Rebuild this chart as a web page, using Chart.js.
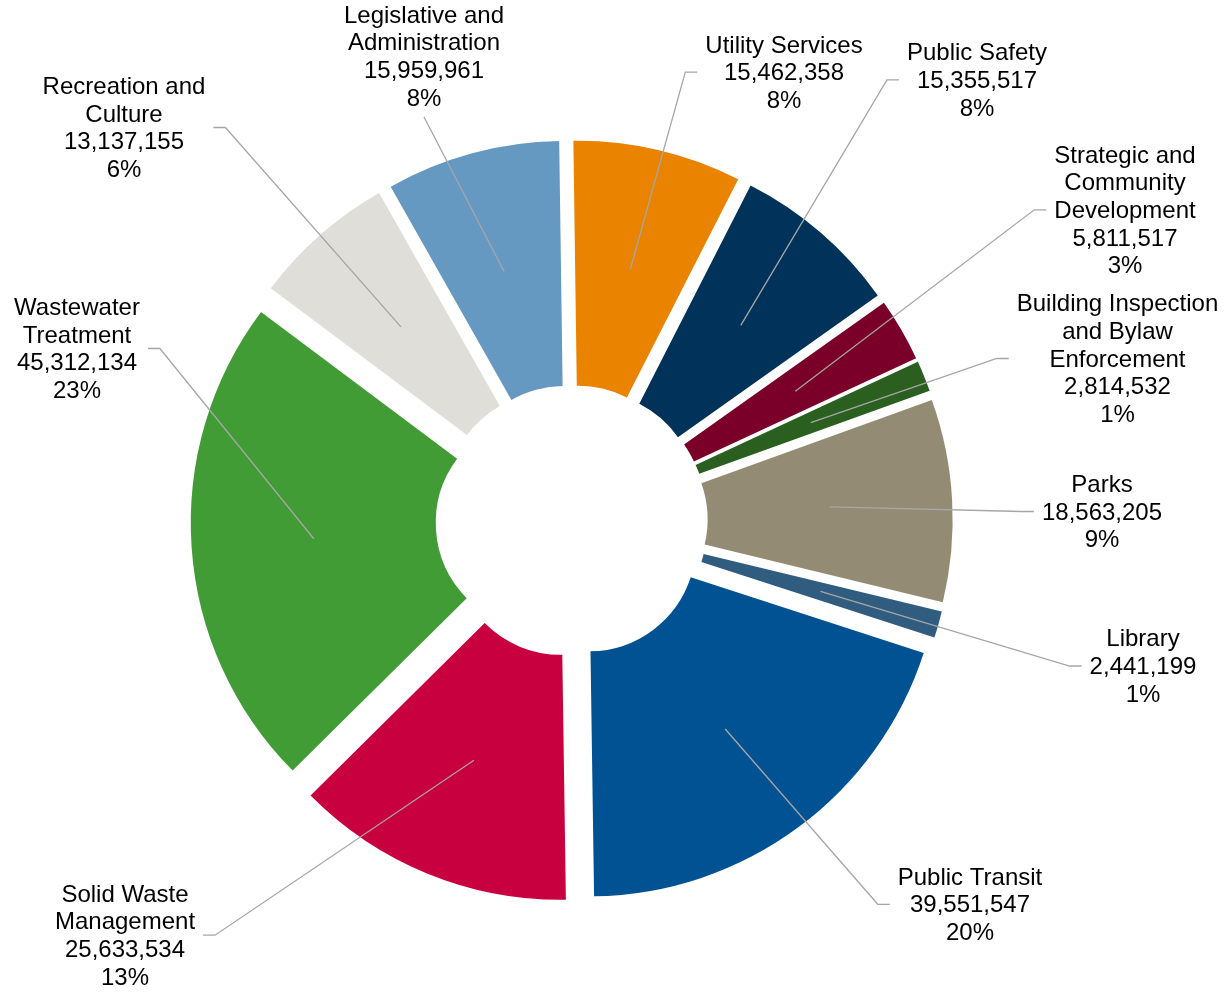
<!DOCTYPE html>
<html><head><meta charset="utf-8">
<script src="https://cdn.jsdelivr.net/npm/chart.js@4"></script>
<style>html,body{margin:0;padding:0;background:#fff;} #wrap{width:1224px;height:993px;position:relative;}</style>
</head><body><div id="wrap"><canvas id="c"></canvas></div>
<script>
const categories = [
  ["Utility Services"],
  ["Public Safety"],
  ["Strategic and", "Community", "Development"],
  ["Building Inspection", "and Bylaw", "Enforcement"],
  ["Parks"],
  ["Library"],
  ["Public Transit"],
  ["Solid Waste", "Management"],
  ["Wastewater", "Treatment"],
  ["Recreation and", "Culture"],
  ["Legislative and", "Administration"]
];
const values = [15462358, 15355517, 5811517, 2814532, 18563205, 2441199, 39551547, 25633534, 45312134, 13137155, 15959961];
const percentLabels = ["8%", "8%", "3%", "1%", "9%", "1%", "20%", "13%", "23%", "6%", "8%"];
const colors = ["#E98300", "#00325A", "#7A0029", "#2A5F1F", "#938B74", "#305D7F", "#005293", "#C8003F", "#429C36", "#DFDED9", "#6699C2"];

// label block placement relative to doughnut centre (middle of text block)
const labelSide = ["right", "right", "right", "right", "right", "right", "right", "left", "left", "left", "top"];
const labelDX = [212.3, 405.3, 553.3, 545.8, 530.3, 571.3, 398.3, -446.7, -494.7, -447.7, -147.7];
const labelDY = [-447.4, -439.6, -309.7, -161, -8, 146.5, 384.8, 415.7, -171, -392, -463.4];

const EXPLODE = 29;
const LINE_H = 27.7;
const FONT = '24px "Liberation Sans", Arial, sans-serif';

const explodePlugin = {
  id: 'explode',
  beforeDatasetDraw(chart, args) {
    const ctx = chart.ctx;
    args.meta.data.forEach(arc => {
      const p = arc.getProps(['startAngle', 'endAngle'], true);
      const mid = (p.startAngle + p.endAngle) / 2;
      ctx.save();
      ctx.translate(Math.cos(mid) * EXPLODE, Math.sin(mid) * EXPLODE);
      arc.draw(ctx);
      ctx.restore();
    });
    return false;
  }
};

const labelPlugin = {
  id: 'outLabels',
  afterDatasetsDraw(chart) {
    const ctx = chart.ctx;
    const meta = chart.getDatasetMeta(0);
    ctx.save();
    ctx.font = FONT;
    meta.data.forEach((arc, i) => {
      const p = arc.getProps(['x', 'y', 'startAngle', 'endAngle'], true);
      const mid = (p.startAngle + p.endAngle) / 2;
      const cp = arc.getCenterPoint(true);
      const sx = cp.x + Math.cos(mid) * EXPLODE;
      const sy = cp.y + Math.sin(mid) * EXPLODE;
      const lines = categories[i].concat([values[i].toLocaleString('en-US'), percentLabels[i]]);
      const bx = p.x + labelDX[i];
      const by = p.y + labelDY[i];
      let maxW = 0;
      lines.forEach(t => { maxW = Math.max(maxW, ctx.measureText(t).width); });
      const n = lines.length;
      // leader line
      ctx.strokeStyle = '#A6A6A6';
      ctx.lineWidth = 1.3;
      ctx.beginPath();
      ctx.moveTo(sx, sy);
      if (labelSide[i] === 'top') {
        ctx.lineTo(bx, by + (n / 2) * LINE_H + 4);
      } else {
        const ly = by - 1.5;
        if (labelSide[i] === 'right') {
          const tick = bx - maxW / 2 - 8;
          ctx.lineTo(tick - 12, ly);
          ctx.lineTo(tick, ly);
        } else {
          const tick = bx + maxW / 2 + 8;
          ctx.lineTo(tick + 12, ly);
          ctx.lineTo(tick, ly);
        }
      }
      ctx.stroke();
      // text
      ctx.fillStyle = '#000';
      ctx.textAlign = 'center';
      ctx.textBaseline = 'middle';
      const y0 = by - (n - 1) / 2 * LINE_H;
      lines.forEach((t, k) => ctx.fillText(t, bx, y0 + k * LINE_H));
    });
    ctx.restore();
  }
};

new Chart(document.getElementById('c'), {
  type: 'doughnut',
  data: {
    labels: categories,
    datasets: [{ data: values, backgroundColor: colors, borderWidth: 0, hoverOffset: 0 }]
  },
  options: {
    responsive: true,
    maintainAspectRatio: false,
    animation: false,
    rotation: -0.8,
    cutout: '30.4%',
    layout: { padding: { left: 219.7, right: 300.3, top: 169, bottom: 120 } },
    events: [],
    plugins: { legend: { display: false }, tooltip: { enabled: false } }
  },
  plugins: [explodePlugin, labelPlugin]
});
</script>
</body></html>
